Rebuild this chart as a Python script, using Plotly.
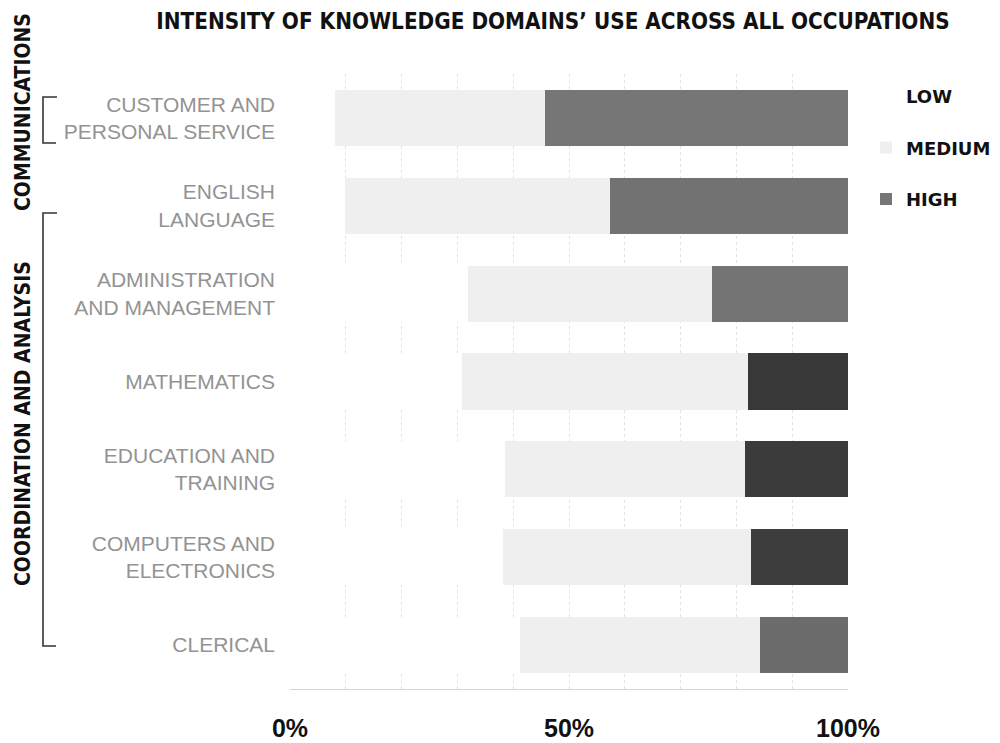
import plotly.graph_objects as go

# Knowledge domains, top to bottom; labels wrap onto two lines
domains = [
    "CUSTOMER AND<br>PERSONAL SERVICE",
    "ENGLISH<br>LANGUAGE",
    "ADMINISTRATION<br>AND MANAGEMENT",
    "MATHEMATICS",
    "EDUCATION AND<br>TRAINING",
    "COMPUTERS AND<br>ELECTRONICS",
    "CLERICAL",
]

# Share of occupations (%) using each domain at each intensity
low = [8.0, 9.9, 31.9, 30.8, 38.5, 38.2, 41.2]
medium = [37.7, 47.4, 43.7, 51.3, 43.0, 44.4, 43.0]
high = [54.3, 42.7, 24.4, 17.9, 18.5, 17.4, 15.8]

# Print tone of each HIGH bar
high_colors = ["#767676", "#727272", "#747474", "#383838", "#3b3b3b", "#3d3d3d", "#6c6c6c"]

x_tick_vals = [0, 50, 100]
x_tick_text = ["0%", "50%", "100%"]

LABEL_FONT = "Liberation Sans, Arial, sans-serif"
BOLD_NARROW = "Liberation Sans Narrow, DejaVu Sans Condensed, Arial Narrow, sans-serif"

fig = go.Figure()
fig.add_trace(go.Bar(
    y=domains, x=low, name="LOW", orientation="h", legendgroup="low",
    marker=dict(color="#ffffff", line=dict(width=0)),
))
fig.add_trace(go.Bar(
    y=domains, x=medium, name="MEDIUM", orientation="h", legendgroup="medium",
    marker=dict(color="#efefef", line=dict(width=0)),
))
fig.add_trace(go.Bar(
    y=domains, x=high, name="HIGH", orientation="h", legendgroup="high",
    marker=dict(color=high_colors, line=dict(width=0)),
))

# Left-hand group labels with their brackets (paper coordinates)
PLOT_L, PLOT_R, PLOT_T, PLOT_B = 290, 848, 74, 689


def px_x(px):
    return (px - PLOT_L) / (PLOT_R - PLOT_L)


def px_y(py):
    return (PLOT_B - py) / (PLOT_B - PLOT_T)


groups = [
    ("COMMUNICATIONS", 112, 97, 143),
    ("COORDINATION AND ANALYSIS", 424, 213, 646),
]

annotations = []
shapes = []
for text, center, top, bottom in groups:
    annotations.append(dict(
        text=text, xref="paper", yref="paper", x=px_x(23), y=px_y(center),
        textangle=-90, showarrow=False, xanchor="center", yanchor="middle",
        font=dict(family=BOLD_NARROW, size=21, color="#111111", weight="bold"),
    ))
    path = (f"M {px_x(57)} {px_y(top)} L {px_x(43)} {px_y(top)} "
            f"L {px_x(43)} {px_y(bottom)} L {px_x(56)} {px_y(bottom)}")
    shapes.append(dict(
        type="path", path=path, xref="paper", yref="paper",
        line=dict(color="#333333", width=1.6),
    ))

fig.update_layout(
    width=1000, height=743,
    barmode="stack",
    bargap=0.36,
    plot_bgcolor="#ffffff",
    paper_bgcolor="#ffffff",
    margin=dict(l=PLOT_L, r=1000 - PLOT_R, t=PLOT_T, b=743 - PLOT_B, autoexpand=False),
    title=dict(
        text="INTENSITY OF KNOWLEDGE DOMAINS’ USE ACROSS ALL OCCUPATIONS",
        x=0.553, xanchor="center", xref="container",
        y=0.972, yanchor="middle", yref="container",
        font=dict(family=BOLD_NARROW, size=22.3, color="#111111", weight="bold"),
    ),
    xaxis=dict(
        range=[0, 100],
        tickvals=x_tick_vals, ticktext=x_tick_text,
        tickfont=dict(family=LABEL_FONT, size=25, color="#111111", weight="bold"),
        ticks="", ticklabelstandoff=17,
        showgrid=False, zeroline=False,
        showline=True, linecolor="#d6d6d6", linewidth=1,
        minor=dict(dtick=10, showgrid=True, gridcolor="#e2e2e2", griddash="dot", gridwidth=1),
        automargin=False,
        fixedrange=True,
    ),
    yaxis=dict(
        categoryorder="array", categoryarray=domains, autorange="reversed",
        tickfont=dict(family=LABEL_FONT, size=21, color="#939393"),
        ticks="", ticklabelstandoff=14,
        showgrid=False, zeroline=False, showline=False,
        automargin=False,
        fixedrange=True,
    ),
    legend=dict(
        xref="container", yref="container",
        x=0.866, xanchor="left", y=0.895, yanchor="top",
        traceorder="grouped", tracegroupgap=25,
        font=dict(family="DejaVu Sans, sans-serif", size=18, color="#111111", weight="bold"),
        bgcolor="rgba(0,0,0,0)",
    ),
    annotations=annotations,
    shapes=shapes,
    showlegend=True,
)

fig.write_html("out.html")
